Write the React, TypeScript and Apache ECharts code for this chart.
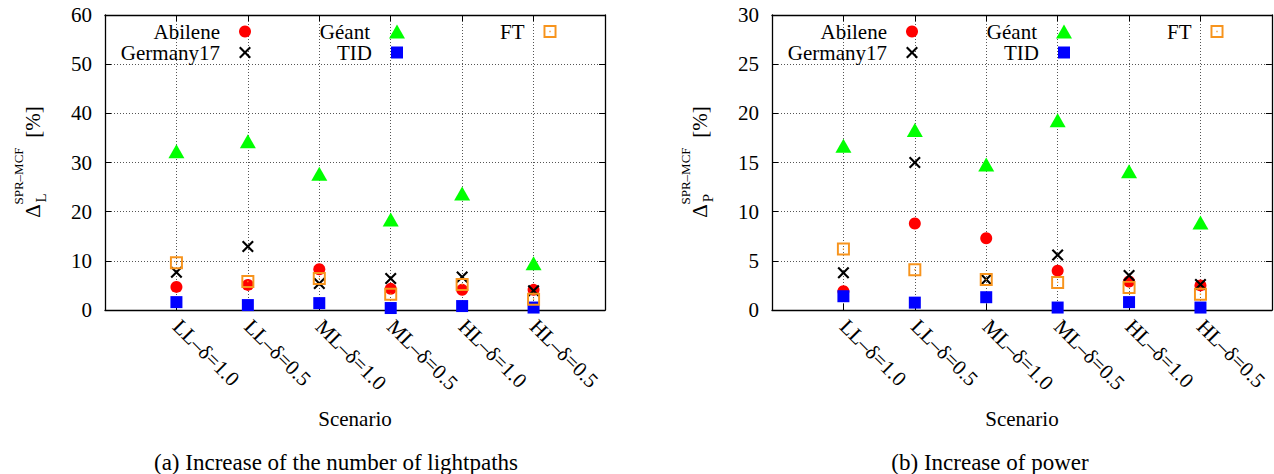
import React, { useEffect, useRef } from "react";
import * as echarts from "echarts";

const categories = ["LL–δ=1.0", "LL–δ=0.5", "ML–δ=1.0", "ML–δ=0.5", "HL–δ=1.0", "HL–δ=0.5"];
const seriesNames = ["Abilene", "Germany17", "Géant", "TID", "FT"];

// (a) Increase of the number of lightpaths [%]
const abileneL = [4.7, 5.1, 8.3, 4.3, 4.1, 4.1];
const germany17L = [7.7, 12.9, 5.4, 6.4, 6.7, 3.9];
const geantL = [32.3, 34.3, 27.7, 18.4, 23.7, 9.5];
const tidL = [1.6, 1.0, 1.4, 0.4, 0.8, 0.5];
const ftL = [9.6, 5.8, 6.4, 3.2, 5.2, 2.2];

// (b) Increase of power [%]
const abileneP = [1.9, 8.8, 7.3, 4.0, 2.9, 2.5];
const germany17P = [3.8, 15.0, 3.1, 5.6, 3.5, 2.6];
const geantP = [16.7, 18.3, 14.8, 19.3, 14.1, 8.9];
const tidP = [1.4, 0.75, 1.3, 0.25, 0.8, 0.25];
const ftP = [6.2, 4.1, 3.1, 2.8, 2.3, 1.6];

const yMaxL = 60;
const yStepL = 10;
const yMaxP = 30;
const yStepP = 5;

const captionA = "(a) Increase of the number of lightpaths";
const captionB = "(b) Increase of power";
const xName = "Scenario";

const FONT = "'Liberation Serif', 'Times New Roman', serif";
const CROSS = "path://M0,2.5L2.5,0L10,7.5L17.5,0L20,2.5L12.5,10L20,17.5L17.5,20L10,12.5L2.5,20L0,17.5L7.5,10Z";
const OPENSQ = "path://M0,0H20V20H0Z M3,3V17H17V3Z M9,9H11V11H9Z";

const styles: Record<string, any> = {
  Abilene: { symbol: "circle", symbolSize: 12, color: "#ff0000" },
  Germany17: { symbol: CROSS, symbolSize: 12, color: "#000000" },
  "Géant": { symbol: "triangle", symbolSize: [16, 14], color: "#00ff00" },
  TID: { symbol: "rect", symbolSize: 12, color: "#0000ff" },
  FT: { symbol: OPENSQ, symbolSize: 13, color: "#f7941d" },
};

const legendLayout: Record<string, { cx: number; cy: number; w: number; h: number }> = {
  Abilene: { cx: 245, cy: 32, w: 12, h: 12 },
  Germany17: { cx: 245, cy: 53, w: 12, h: 12 },
  "Géant": { cx: 397, cy: 32, w: 16, h: 14 },
  TID: { cx: 397, cy: 53, w: 12, h: 12 },
  FT: { cx: 550, cy: 32, w: 13, h: 13 },
};

const W = 1274;
const H = 474;

function splitColors(n: number) {
  const arr: string[] = [];
  for (let i = 0; i <= n; i++) arr.push(i === 0 || i === n ? "rgba(0,0,0,0)" : "#555555");
  return arr;
}

export default function App() {
  const ref = useRef<HTMLDivElement>(null);
  useEffect(() => {
    if (!ref.current) return;
    const chart = echarts.init(ref.current, null, { renderer: "svg" });
    const panels = [
      { left: 105, vals: [abileneL, germany17L, geantL, tidL, ftL], yMax: yMaxL, yStep: yStepL },
      { left: 772, vals: [abileneP, germany17P, geantP, tidP, ftP], yMax: yMaxP, yStep: yStepP },
    ];
    const grid: any[] = [];
    const xAxis: any[] = [];
    const yAxis: any[] = [];
    const series: any[] = [];
    const legend: any[] = [];
    const axisLine = { show: true, onZero: false, lineStyle: { color: "#000", width: 1.3 } };
    const axisTick = { show: true, inside: true, length: 6, lineStyle: { color: "#000", width: 1 } };
    panels.forEach((p, gi) => {
      grid.push({ left: p.left, top: 15, width: 500, height: 295 });
      xAxis.push({
        gridIndex: gi, type: "value", position: "bottom", min: 0, max: categories.length + 1, interval: 1,
        axisLine, axisTick,
        axisLabel: {
          formatter: (v: number) => categories[v - 1] ?? "",
          rotate: -45, fontSize: 21, fontFamily: FONT, color: "#000", margin: 13,
        },
        splitLine: { show: true, lineStyle: { color: splitColors(categories.length + 1), type: [1, 2], width: 1 } },
        name: xName, nameLocation: "middle", nameGap: 98,
        nameTextStyle: { fontSize: 21, fontFamily: FONT, color: "#000" },
      });
      xAxis.push({
        gridIndex: gi, type: "value", position: "top", min: 0, max: categories.length + 1, interval: 1,
        axisLine, axisTick, axisLabel: { show: false }, splitLine: { show: false },
      });
      yAxis.push({
        gridIndex: gi, type: "value", position: "left", min: 0, max: p.yMax, interval: p.yStep,
        axisLine, axisTick,
        axisLabel: { fontSize: 21, fontFamily: FONT, color: "#000", margin: 13 },
        splitLine: { show: true, lineStyle: { color: splitColors(p.yMax / p.yStep), type: [1, 2], width: 1 } },
      });
      yAxis.push({
        gridIndex: gi, type: "value", position: "right", min: 0, max: p.yMax, interval: p.yStep,
        axisLine, axisTick, axisLabel: { show: false }, splitLine: { show: false },
      });
      seriesNames.forEach((name, si) => {
        const st = styles[name];
        series.push({
          type: "scatter", name, xAxisIndex: gi * 2, yAxisIndex: gi * 2,
          symbol: st.symbol, symbolSize: st.symbolSize,
          itemStyle: { color: st.color, opacity: 1 },
          data: categories.map((c, i) => [i + 1, p.vals[si][i]]),
          z: 2 + si,
        });
        const ll = legendLayout[name];
        const off = gi * 667;
        legend.push({
          data: [name], orient: "horizontal", align: "right", selectedMode: false,
          right: W - (ll.cx + off + ll.w / 2), top: ll.cy - 11,
          itemWidth: ll.w, itemHeight: ll.h, padding: 0,
          textStyle: { fontSize: 21, fontFamily: FONT, color: "#000", padding: [0, 14, 0, 0] },
        });
      });
    });
    const yNames = [
      { sub: "L", off: 0 },
      { sub: "P", off: 667 },
    ];
    const graphic: any[] = [];
    yNames.forEach((yn) => {
      graphic.push({ type: "text", x: 33 + yn.off, y: 211, rotation: Math.PI / 2,
        style: { text: "Δ", fontSize: 21, fontFamily: FONT, fill: "#000", align: "center", verticalAlign: "middle" } });
      graphic.push({ type: "text", x: 41 + yn.off, y: 198, rotation: Math.PI / 2,
        style: { text: yn.sub, fontSize: 15, fontFamily: FONT, fill: "#000", align: "center", verticalAlign: "middle" } });
      graphic.push({ type: "text", x: 18 + yn.off, y: 176, rotation: Math.PI / 2,
        style: { text: "SPR–MCF", fontSize: 13, fontFamily: FONT, fill: "#000", align: "center", verticalAlign: "middle" } });
      graphic.push({ type: "text", x: 33 + yn.off, y: 122, rotation: Math.PI / 2,
        style: { text: "[%]", fontSize: 21, fontFamily: FONT, fill: "#000", align: "center", verticalAlign: "middle" } });
    });
    graphic.push({ type: "text", x: 336, y: 462,
      style: { text: captionA, fontSize: 23, fontFamily: FONT, fill: "#000", align: "center", verticalAlign: "middle" } });
    graphic.push({ type: "text", x: 990, y: 462,
      style: { text: captionB, fontSize: 23, fontFamily: FONT, fill: "#000", align: "center", verticalAlign: "middle" } });

    chart.setOption({
      animation: false,
      backgroundColor: "#fff",
      textStyle: { fontFamily: FONT },
      grid, xAxis, yAxis, series, legend, graphic,
    });
    return () => chart.dispose();
  }, []);
  return <div ref={ref} style={{ position: "absolute", left: 0, top: 0, width: W, height: H }} />;
}
